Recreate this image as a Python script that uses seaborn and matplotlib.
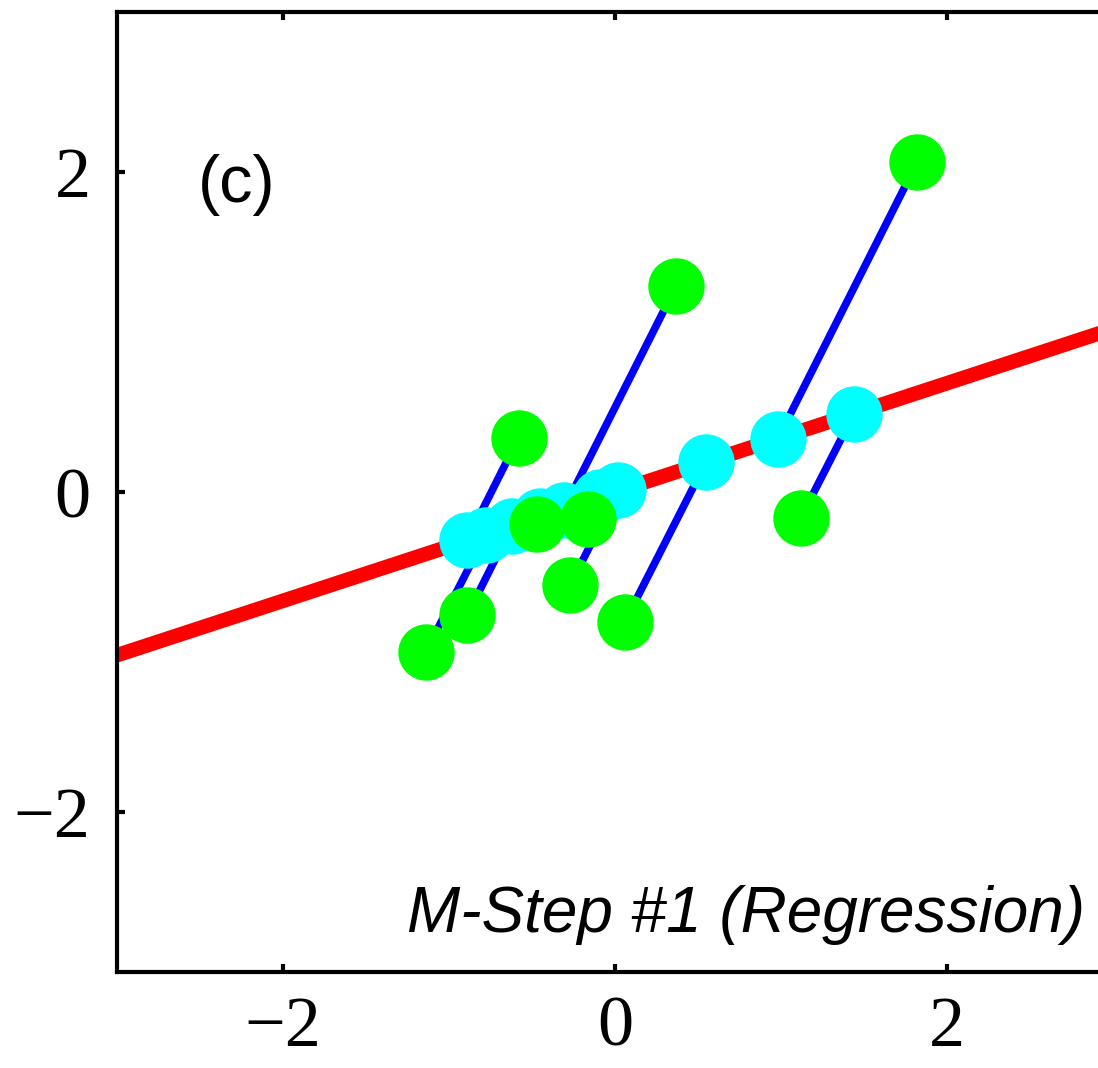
import numpy as np
import pandas as pd
import matplotlib
matplotlib.use("Agg")
import matplotlib.pyplot as plt
import seaborn as sns

# Observed (green) points
green_x = [1.82, 0.37, -0.58, 1.12, -0.47, -0.16, -0.27, 0.06, -0.89, -1.14]
green_y = [2.06, 1.29, 0.34, -0.16, -0.20, -0.17, -0.58, -0.81, -0.77, -1.00]

# Projected (cyan) points on the regression line
cyan_x = [0.98, -0.31, -0.89, 1.44, -0.45, -0.09, 0.02, 0.55, -0.62, -0.78]
cyan_y = [0.33, -0.11, -0.30, 0.49, -0.15, -0.03, 0.01, 0.19, -0.21, -0.27]

# Regression line (red)
line_x = [-3.0, 3.0]
line_y = [-1.02, 1.02]

tick_vals = [-2, 0, 2]
panel_label = "(c)"
step_label = "M-Step #1 (Regression)"

sns.set_theme(style="white")
plt.rcParams["font.family"] = ["Liberation Serif", "DejaVu Serif"]
plt.rcParams["axes.unicode_minus"] = True

fig = plt.figure(figsize=(10.98, 10.68), dpi=100)
ax = fig.add_axes([117 / 1098, 96 / 1068, (1113 - 117) / 1098, (972 - 12) / 1068])

# Blue segments: green -> cyan
seg = pd.DataFrame({
    "x": [v for pair in zip(green_x, cyan_x) for v in pair],
    "y": [v for pair in zip(green_y, cyan_y) for v in pair],
    "seg": [i for i in range(len(green_x)) for _ in range(2)],
})
sns.lineplot(data=seg, x="x", y="y", units="seg", estimator=None, sort=False,
             color="#0000ff", linewidth=5.5, ax=ax, zorder=1)

# Red regression line
sns.lineplot(x=line_x, y=line_y, color="#ff0000", linewidth=10.5, ax=ax, zorder=2)

# Cyan projected points
sns.scatterplot(x=cyan_x, y=cyan_y, color="#00ffff", s=1650, linewidth=0,
                ax=ax, zorder=3)
# Green data points
sns.scatterplot(x=green_x, y=green_y, color="#00ff00", s=1650, linewidth=0,
                ax=ax, zorder=4)

ax.set_xlim(-3, 3)
ax.set_ylim(-3, 3)
ax.set_xticks(tick_vals)
ax.set_yticks(tick_vals)
ax.set_xticklabels([f"\u2212{abs(v)}" if v < 0 else str(v) for v in tick_vals])
ax.set_yticklabels([f"\u2212{abs(v)}" if v < 0 else str(v) for v in tick_vals])
ax.set_xlabel("")
ax.set_ylabel("")

for s in ax.spines.values():
    s.set_linewidth(3)
    s.set_color("black")
    s.set_visible(True)

ax.tick_params(axis="both", which="both", direction="in", length=6, width=3,
               color="black", labelsize=52, labelcolor="black",
               top=True, right=True, bottom=True, left=True)
ax.tick_params(axis="x", pad=17)
ax.tick_params(axis="y", pad=19)

ax.text(-2.28, 1.92, panel_label, fontsize=48, family=["Liberation Sans", "DejaVu Sans"],
        ha="center", va="center", color="black")
ax.text((1085 - 117) / (1113 - 117), (1068 - 932 - 96) / (972 - 12), step_label,
        transform=ax.transAxes, fontsize=46, style="italic",
        family=["Liberation Sans", "DejaVu Sans"], ha="right", va="baseline",
        color="black")

fig.savefig("out.png", dpi=100)
